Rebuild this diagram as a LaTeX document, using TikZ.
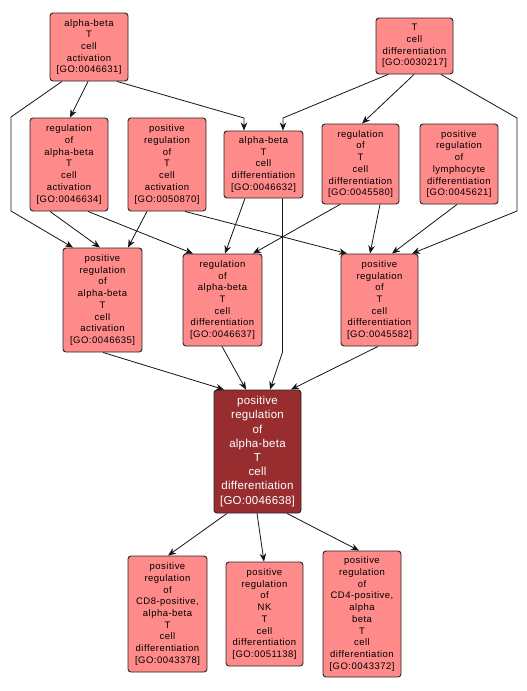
\documentclass[tikz,border=0pt]{standalone}
\usepackage{fontspec}
\setmainfont{Liberation Sans}
\newfontfamily\smallfnt[LetterSpace=5]{Liberation Sans}
\newfontfamily\bigfnt[LetterSpace=2]{Liberation Sans}
\usetikzlibrary{arrows.meta}
\definecolor{lightfill}{RGB}{255,138,138}
\definecolor{darkfill}{RGB}{152,45,48}
\definecolor{edgecol}{RGB}{20,20,20}
\tikzset{
  goterm/.style={draw=black!85, line width=0.9pt, rounded corners=3pt, fill=lightfill,
    align=center, inner sep=0pt, font=\smallfnt\fontsize{9.5}{11.7}\selectfont},
  mainterm/.style={goterm, fill=darkfill, text=white, font=\bigfnt\fontsize{11.5}{14.2}\selectfont},
  link/.style={draw=edgecol, line width=0.8pt, -{Stealth[length=8pt,width=6.5pt,inset=2.5pt]}},
}
\begin{document}
\begin{tikzpicture}[x=1pt,y=-1pt]
\useasboundingbox (0,0) rectangle (527,691);
\fill[white] (0,0) rectangle (527,691);
% nodes
\node[goterm, minimum width=78pt, minimum height=68pt] (A) at (89,47) {alpha-beta\\T\\cell\\activation\\{[}GO:0046631{]}};
\node[goterm, minimum width=77pt, minimum height=56pt] (B) at (414.5,46) {T\\cell\\differentiation\\{[}GO:0030217{]}};
\node[goterm, minimum width=78pt, minimum height=93pt] (C) at (69,164.5) {regulation\\of\\alpha-beta\\T\\cell\\activation\\{[}GO:0046634{]}};
\node[goterm, minimum width=78pt, minimum height=93pt] (D) at (167,164.5) {positive\\regulation\\of\\T\\cell\\activation\\{[}GO:0050870{]}};
\node[goterm, minimum width=79pt, minimum height=67pt] (E) at (263.5,164.5) {alpha-beta\\T\\cell\\differentiation\\{[}GO:0046632{]}};
\node[goterm, minimum width=77pt, minimum height=80pt] (F) at (360.5,164) {regulation\\of\\T\\cell\\differentiation\\{[}GO:0045580{]}};
\node[goterm, minimum width=78pt, minimum height=80pt] (G) at (459,164) {positive\\regulation\\of\\lymphocyte\\differentiation\\{[}GO:0045621{]}};
\node[goterm, minimum width=79pt, minimum height=104pt] (H) at (102.5,300) {positive\\regulation\\of\\alpha-beta\\T\\cell\\activation\\{[}GO:0046635{]}};
\node[goterm, minimum width=79pt, minimum height=92pt] (I) at (222.5,300) {regulation\\of\\alpha-beta\\T\\cell\\differentiation\\{[}GO:0046637{]}};
\node[goterm, minimum width=77pt, minimum height=92pt] (J) at (379.5,300) {positive\\regulation\\of\\T\\cell\\differentiation\\{[}GO:0045582{]}};
\node[mainterm, minimum width=87pt, minimum height=123pt] (K) at (257.5,451.5) {positive\\regulation\\of\\alpha-beta\\T\\cell\\differentiation\\{[}GO:0046638{]}};
\node[goterm, minimum width=79pt, minimum height=116pt] (L) at (167.5,614) {positive\\regulation\\of\\CD8-positive,\\alpha-beta\\T\\cell\\differentiation\\{[}GO:0043378{]}};
\node[goterm, minimum width=77pt, minimum height=104pt] (M) at (264.5,614) {positive\\regulation\\of\\NK\\T\\cell\\differentiation\\{[}GO:0051138{]}};
\node[goterm, minimum width=78pt, minimum height=126pt] (N) at (362,614) {positive\\regulation\\of\\CD4-positive,\\alpha\\beta\\T\\cell\\differentiation\\{[}GO:0043372{]}};
% bend coordinates
\coordinate (ah1) at (11,117);
\coordinate (ah2) at (11,211);
\coordinate (ae1) at (244,118);
\coordinate (be1) at (283,118);
\coordinate (bj1) at (517,118);
\coordinate (bj2) at (517,211);
\coordinate (ek1) at (282.5,352);
% edges
\draw[link] ([xshift=-1pt]A.south) -- ([xshift=1pt]C.north);
\draw[link] ([xshift=-27pt]A.south) -- (ah1) -- (ah2) -- ([xshift=-29.5pt]H.north);
\draw[link] ([xshift=28pt]A.south) -- (ae1) -- ([xshift=-19.5pt]E.north);
\draw[link] ([xshift=-26.5pt]B.south) -- (be1) -- ([xshift=19.5pt]E.north);
\draw[link] ([xshift=-0.5pt]B.south) -- ([xshift=1.5pt]F.north);
\draw[link] ([xshift=26.5pt]B.south) -- (bj1) -- (bj2) -- ([xshift=32.5pt]J.north);
\draw[link] ([xshift=-19pt]C.south) -- ([xshift=-2.5pt]H.north);
\draw[link] ([xshift=19pt]C.south) -- ([xshift=-29.5pt]I.north);
\draw[link] ([xshift=-20pt]D.south) -- ([xshift=25.5pt]H.north);
\draw[link] ([xshift=18pt]D.south) -- ([xshift=-32.5pt]J.north);
\draw[link] ([xshift=-18.5pt]E.south) -- ([xshift=2.5pt]I.north);
\draw[link] ([xshift=19pt]E.south) -- (ek1) -- ([xshift=12.5pt]K.north);
\draw[link] ([xshift=-20.5pt]F.south) -- ([xshift=30.5pt]I.north);
\draw[link] ([xshift=19.5pt]F.south) -- ([xshift=-9.5pt]J.north);
\draw[link] ([xshift=-2pt]G.south) -- ([xshift=12.5pt]J.north);
\draw[link] ([xshift=0.5pt]H.south) -- ([xshift=-33.5pt]K.north);
\draw[link] ([xshift=-0.5pt]I.south) -- ([xshift=-11.5pt]K.north);
\draw[link] ([xshift=-1.5pt]J.south) -- ([xshift=33.5pt]K.north);
\draw[link] ([xshift=-30.5pt]K.south) -- ([xshift=0.5pt]L.north);
\draw[link] ([xshift=-0.5pt]K.south) -- ([xshift=-0.5pt]M.north);
\draw[link] ([xshift=29.5pt]K.south) -- ([xshift=-3pt]N.north);
\end{tikzpicture}
\end{document}
